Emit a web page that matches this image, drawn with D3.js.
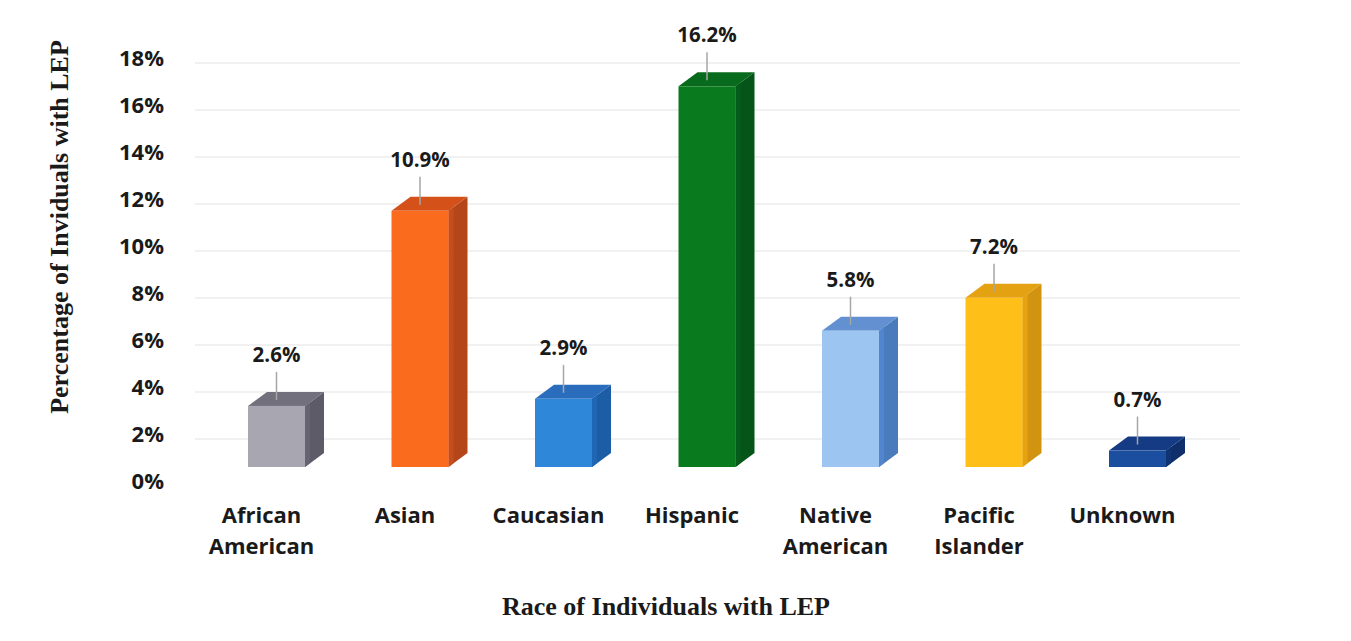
<!DOCTYPE html>
<html>
<head>
<meta charset="utf-8">
<script src="https://cdn.jsdelivr.net/npm/d3@7"></script>
<style>
  html, body { margin: 0; padding: 0; background: #fff; }
  svg { display: block; }
</style>
</head>
<body>
<svg id="chart" width="1351" height="641"></svg>
<script>
// Share of individuals with limited English proficiency, by race
const categories = ["African American", "Asian", "Caucasian", "Hispanic", "Native American", "Pacific Islander", "Unknown"];
const values = [2.6, 10.9, 2.9, 16.2, 5.8, 7.2, 0.7];
const tickValues = [0, 2, 4, 6, 8, 10, 12, 14, 16, 18];
const frontColors = ["#a8a6b0", "#fb6b1e", "#2f87d9", "#0a7a1f", "#9dc5f2", "#fdbf18", "#1c4ea0"];
const sideColors  = ["#5d5b68", "#b5461a", "#1c5da6", "#055418", "#4a7bbd", "#d29410", "#0f2f6a"];
const topColors   = ["#72707c", "#d4521a", "#2a6dbd", "#086a1c", "#6390d0", "#e4a212", "#143b84"];

const svg = d3.select("#chart");

const barW = 57;                   // front face width
const depthX = 19, depthY = -14;   // 3D depth offset

const x = d3.scalePoint().domain(categories).range([276.5, 1137.5]);
const y = d3.scaleLinear().domain([0, 18]).range([467, 44]);

// back-wall gridlines
svg.append("g")
  .selectAll("line")
  .data(tickValues.filter(v => v > 0))
  .join("line")
  .attr("x1", 195).attr("x2", 1240)
  .attr("y1", d => y(d) + 19).attr("y2", d => y(d) + 19)
  .attr("stroke", "#ececec").attr("stroke-width", 1.5);

// y axis tick labels
const yAxis = d3.axisLeft(y).tickValues(tickValues).tickSize(0).tickPadding(0)
  .tickFormat(d => d + "%");
const ya = svg.append("g").attr("transform", "translate(164,14)").call(yAxis);
ya.select(".domain").remove();
ya.selectAll("text")
  .attr("font-family", "'Open Sans', sans-serif")
  .attr("font-weight", "bold").attr("font-size", 22)
  .attr("fill", "#1a1a1a").attr("dy", "0.36em");

// 3D columns
const bars = svg.append("g").selectAll("g.bar")
  .data(categories.map((c, i) => ({ c, v: values[i], i })))
  .join("g").attr("class", "bar");

bars.each(function(d) {
  const g = d3.select(this);
  const x0 = x(d.c) - barW / 2, x1 = x(d.c) + barW / 2;
  const yt = y(d.v), yb = y(0);
  // side face
  g.append("path")
    .attr("d", `M${x1},${yb} L${x1 + depthX},${yb + depthY} L${x1 + depthX},${yt + depthY} L${x1},${yt} Z`)
    .attr("fill", sideColors[d.i]);
  // lighter strip on the side face near the front edge
  g.append("path")
    .attr("d", `M${x1},${yb} L${x1 + 5},${yb + depthY * 5 / depthX} L${x1 + 5},${yt + depthY * 5 / depthX} L${x1},${yt} Z`)
    .attr("fill", d3.color(sideColors[d.i]).brighter(0.25));
  // top face
  g.append("path")
    .attr("d", `M${x0},${yt} L${x0 + depthX},${yt + depthY} L${x1 + depthX},${yt + depthY} L${x1},${yt} Z`)
    .attr("fill", topColors[d.i]);
  // front face
  g.append("rect")
    .attr("x", x0).attr("y", yt).attr("width", barW).attr("height", yb - yt)
    .attr("fill", frontColors[d.i]);
  // leader line from label to top of column
  g.append("line")
    .attr("x1", x(d.c)).attr("x2", x(d.c))
    .attr("y1", yt - 34).attr("y2", yt - 6)
    .attr("stroke", "#a6a6a6").attr("stroke-width", 1.5);
  // value label
  g.append("text")
    .attr("x", x(d.c)).attr("y", yt - 44)
    .attr("text-anchor", "middle")
    .attr("font-family", "'Open Sans', sans-serif")
    .attr("font-weight", "bold").attr("font-size", 20.5)
    .attr("fill", "#1a1a1a")
    .text(d.v.toFixed(1) + "%");
});

// category labels (wrapped onto two lines)
const catG = svg.append("g");
categories.forEach(c => {
  const words = c.split(" ");
  const t = catG.append("text")
    .attr("x", x(c) - 15).attr("y", 523)
    .attr("text-anchor", "middle")
    .attr("font-family", "'Open Sans', sans-serif")
    .attr("font-weight", "bold").attr("font-size", 22)
    .attr("fill", "#1a1a1a");
  words.forEach((w, k) => {
    t.append("tspan").attr("x", x(c) - 15).attr("dy", k === 0 ? 0 : 31).text(w);
  });
});

// axis titles
svg.append("text")
  .attr("x", 666).attr("y", 615)
  .attr("text-anchor", "middle")
  .attr("font-family", "'Liberation Serif', 'Times New Roman', serif")
  .attr("font-weight", "bold").attr("font-size", 26)
  .attr("fill", "#1a1a1a")
  .text("Race of Individuals with LEP");

svg.append("text")
  .attr("transform", "translate(68,227) rotate(-90)")
  .attr("text-anchor", "middle")
  .attr("font-family", "'Liberation Serif', 'Times New Roman', serif")
  .attr("font-weight", "bold").attr("font-size", 26)
  .attr("fill", "#1a1a1a")
  .text("Percentage of Inviduals with LEP");
</script>
</body>
</html>
